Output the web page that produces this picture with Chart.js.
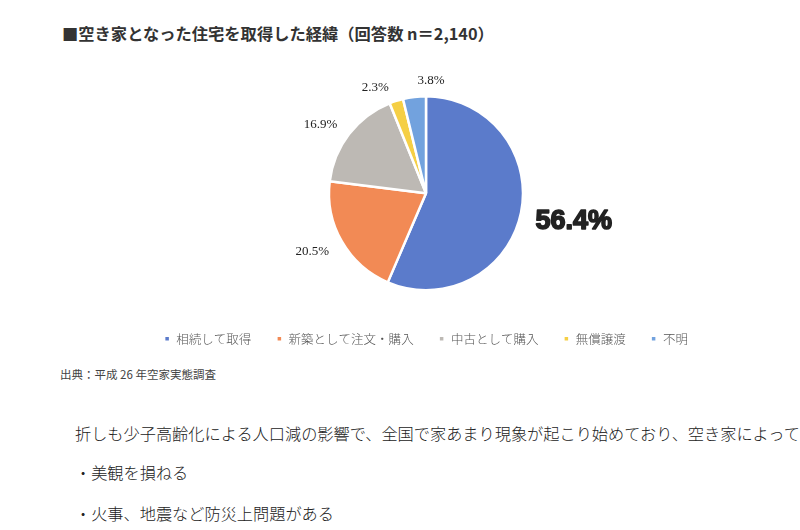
<!DOCTYPE html>
<html lang="ja">
<head>
<meta charset="utf-8">
<script src="https://cdn.jsdelivr.net/npm/chart.js@4.4.1/dist/chart.umd.min.js"></script>
<style>
  html, body { margin: 0; padding: 0; background: #fff; }
  body { width: 800px; height: 530px; position: relative; overflow: hidden; font-family: "Noto Sans CJK JP", sans-serif; }
  .title { position: absolute; left: 62px; top: 21px; font-size: 16.3px; font-weight: bold; color: #333; white-space: nowrap; }
  .source { position: absolute; left: 60px; top: 366px; font-size: 11.5px; color: #444; white-space: nowrap; }
  .body { position: absolute; left: 75px; font-size: 16.2px; font-weight: 300; color: #222; white-space: nowrap; }
  #wrap { position: absolute; left: 0; top: 50px; width: 800px; height: 315px; }
</style>
</head>
<body>
<div class="title">■空き家となった住宅を取得した経緯（回答数 n＝2,140）</div>
<div id="wrap"><canvas id="pieChart"></canvas></div>
<div class="source">出典：平成 26 年空家実態調査</div>
<div class="body" style="top:421px">折しも少子高齢化による人口減の影響で、全国で家あまり現象が起こり始めており、空き家によって</div>
<div class="body" style="top:460px">・美観を損ねる</div>
<div class="body" style="top:501px">・火事、地震など防災上問題がある</div>

<script>
// 取得経緯（%）
const categories = ['相続して取得', '新築として注文・購入', '中古として購入', '無償譲渡', '不明'];
const shares = [56.4, 20.5, 16.9, 2.3, 3.8];
const sliceColors = ['#5b7bcb', '#f28a55', '#bdb9b4', '#f5cf45', '#72a2de'];

// ラベルの配置（半径に対する倍率と角度のずれ）
const labelDist = [1.55, 1.32, 1.30, 1.21, 1.16];
const labelShift = [-0.8, 2.5, -4.4, -7.8, 9.4];

const pctLabels = {
    id: 'pctLabels',
    afterDatasetsDraw(chart) {
        const ctx = chart.ctx;
        const arcs = chart.getDatasetMeta(0).data;
        ctx.save();
        ctx.textAlign = 'center';
        ctx.textBaseline = 'middle';
        arcs.forEach((arc, i) => {
            const p = arc.getProps(['x', 'y', 'startAngle', 'endAngle', 'outerRadius'], true);
            const mid = (p.startAngle + p.endAngle) / 2 + labelShift[i] * Math.PI / 180;
            const r = p.outerRadius * labelDist[i];
            const x = p.x + Math.cos(mid) * r;
            const y = p.y + Math.sin(mid) * r;
            ctx.fillStyle = '#222';
            if (i === 0) {
                // 大きく太い数字
                ctx.font = 'bold 27px "Liberation Sans", sans-serif';
                ctx.strokeStyle = '#222';
                ctx.lineWidth = 1.6;
                ctx.lineJoin = 'round';
                ctx.strokeText(shares[i].toFixed(1) + '%', x, y);
            } else {
                ctx.font = '13px "Liberation Serif", serif';
            }
            ctx.fillText(shares[i].toFixed(1) + '%', x, y);
        });
        ctx.restore();
    }
};

new Chart(document.getElementById('pieChart').getContext('2d'), {
    type: 'pie',
    data: {
        labels: categories,
        datasets: [{
            data: shares,
            backgroundColor: sliceColors,
            borderColor: '#fff',
            borderWidth: 2.5,
            radius: 97
        }]
    },
    options: {
        responsive: true,
        maintainAspectRatio: false,
        animation: false,
        layout: { padding: { left: 52, top: 29, bottom: 10 } },
        plugins: {
            legend: {
                position: 'bottom',
                labels: {
                    boxWidth: 6,
                    boxHeight: 6,
                    padding: 25,
                    color: '#555',
                    font: { family: '"Noto Sans CJK JP", sans-serif', size: 12.5, weight: 300 }
                }
            },
            tooltip: { enabled: false }
        }
    },
    plugins: [pctLabels]
});
</script>
</body>
</html>
